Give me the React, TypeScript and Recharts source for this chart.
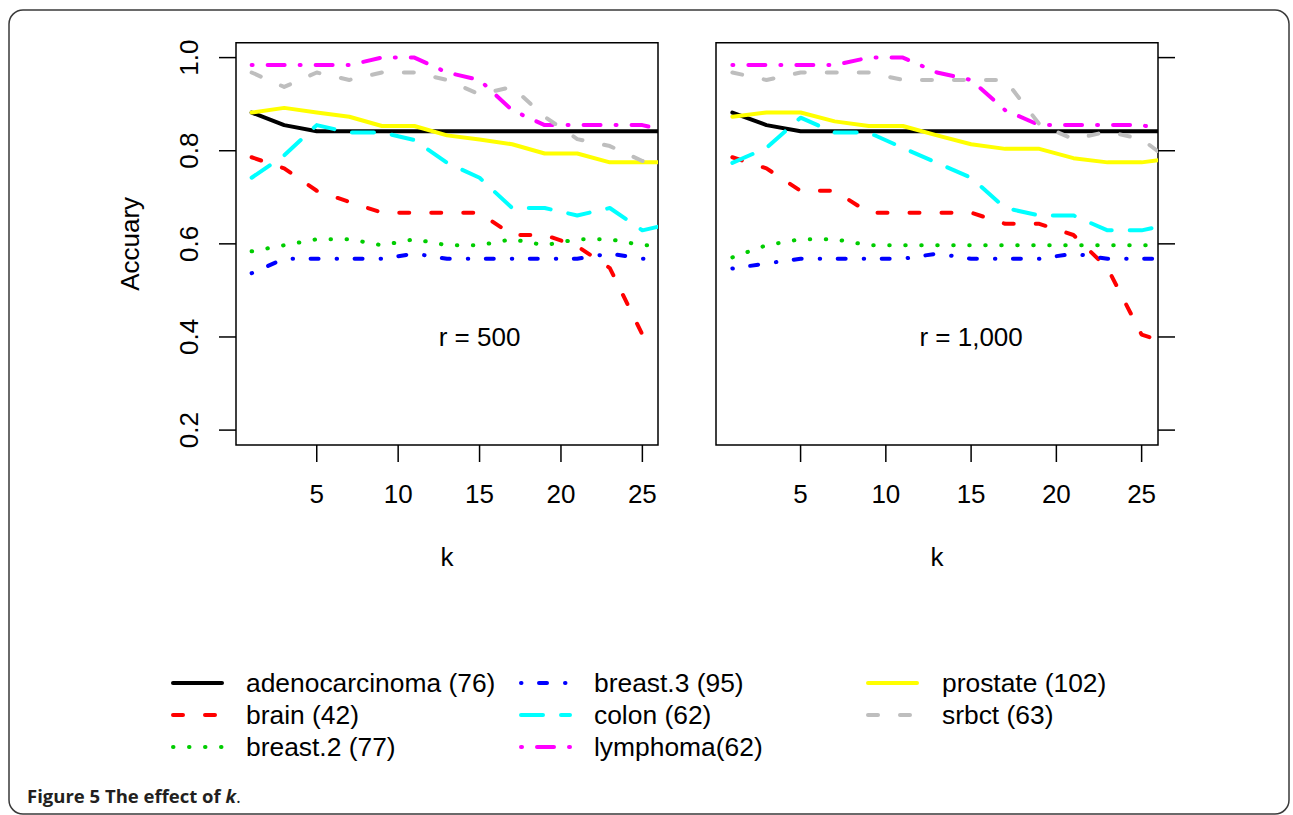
import React from 'react';
import { LineChart, Line, XAxis, YAxis, ReferenceArea, ReferenceDot } from 'recharts';

const FONT = '"Liberation Sans", Arial, Helvetica, sans-serif';

// k values (odd k; the last one lies beyond the visible x range and is clipped)
const kValues = [1, 3, 5, 7, 9, 11, 13, 15, 17, 19, 21, 23, 25, 27];
const xTicks = [5, 10, 15, 20, 25];
const yTicks = [0.2, 0.4, 0.6, 0.8, 1.0];

// r = 500 panel
const adeno500 = [0.882, 0.855, 0.842, 0.842, 0.842, 0.842, 0.842, 0.842, 0.842, 0.842, 0.842, 0.842, 0.842, 0.842];
const brain500 = [0.786, 0.762, 0.714, 0.690, 0.667, 0.667, 0.667, 0.667, 0.619, 0.619, 0.595, 0.548, 0.405, 0.381];
const breast2_500 = [0.584, 0.597, 0.610, 0.610, 0.597, 0.610, 0.597, 0.597, 0.610, 0.597, 0.610, 0.610, 0.597, 0.597];
const breast3_500 = [0.537, 0.568, 0.568, 0.568, 0.568, 0.579, 0.568, 0.568, 0.568, 0.568, 0.568, 0.579, 0.568, 0.568];
const colon500 = [0.742, 0.790, 0.855, 0.839, 0.839, 0.823, 0.774, 0.742, 0.677, 0.677, 0.661, 0.677, 0.629, 0.645];
const lymph500 = [0.984, 0.984, 0.984, 0.984, 1.0, 1.0, 0.968, 0.952, 0.887, 0.855, 0.855, 0.855, 0.855, 0.839];
const prost500 = [0.882, 0.892, 0.882, 0.873, 0.853, 0.853, 0.833, 0.824, 0.814, 0.794, 0.794, 0.775, 0.775, 0.775];
const srbct500 = [0.968, 0.937, 0.968, 0.952, 0.968, 0.968, 0.952, 0.921, 0.937, 0.873, 0.825, 0.810, 0.778, 0.762];

// r = 1,000 panel
const adeno1000 = [0.882, 0.855, 0.842, 0.842, 0.842, 0.842, 0.842, 0.842, 0.842, 0.842, 0.842, 0.842, 0.842, 0.842];
const brain1000 = [0.786, 0.762, 0.714, 0.714, 0.667, 0.667, 0.667, 0.667, 0.643, 0.643, 0.619, 0.548, 0.405, 0.381];
const breast2_1000 = [0.571, 0.597, 0.610, 0.610, 0.597, 0.597, 0.597, 0.597, 0.597, 0.597, 0.597, 0.597, 0.597, 0.597];
const breast3_1000 = [0.547, 0.558, 0.568, 0.568, 0.568, 0.568, 0.579, 0.568, 0.568, 0.568, 0.579, 0.568, 0.568, 0.568];
const colon1000 = [0.774, 0.806, 0.871, 0.839, 0.839, 0.806, 0.774, 0.742, 0.677, 0.661, 0.661, 0.629, 0.629, 0.645];
const lymph1000 = [0.984, 0.984, 0.984, 0.984, 1.0, 1.0, 0.968, 0.952, 0.887, 0.855, 0.855, 0.855, 0.855, 0.839];
const prost1000 = [0.873, 0.882, 0.882, 0.863, 0.853, 0.853, 0.833, 0.814, 0.804, 0.804, 0.784, 0.775, 0.775, 0.784];
const srbct1000 = [0.968, 0.952, 0.968, 0.968, 0.968, 0.952, 0.952, 0.952, 0.952, 0.857, 0.825, 0.841, 0.825, 0.770];

const seriesKeys = ['adeno', 'brain', 'breast2', 'breast3', 'colon', 'lymph', 'prost', 'srbct'];
const seriesNames = ['adenocarcinoma (76)', 'brain (42)', 'breast.2 (77)', 'breast.3 (95)', 'colon (62)', 'lymphoma(62)', 'prostate (102)', 'srbct (63)'];
const seriesColors = ['#000000', '#ff0000', '#00cd00', '#0000ff', '#00ffff', '#ff00ff', '#ffff00', '#bebebe'];
const seriesDash = [undefined, '10 22', '0.5 15.5', '0.5 17.5 8 18', '22 18', '1 15 17 15', undefined, '10 22'];

const panel500 = [adeno500, brain500, breast2_500, breast3_500, colon500, lymph500, prost500, srbct500];
const panel1000 = [adeno1000, brain1000, breast2_1000, breast3_1000, colon1000, lymph1000, prost1000, srbct1000];

const buildRows = (panel: number[][]) =>
  kValues.map((k, i) => {
    const row: Record<string, number> = { k };
    seriesKeys.forEach((key, j) => {
      row[key] = panel[j][i];
    });
    return row;
  });

const rows500 = buildRows(panel500);
const rows1000 = buildRows(panel1000);

const X_DOMAIN: [number, number] = [0.04, 25.96];
const Y_DOMAIN: [number, number] = [0.168, 1.032];

const RotTick = (props: any) => {
  const { x, y, payload } = props;
  return (
    <text
      x={x}
      y={y}
      transform={`rotate(-90 ${x} ${y})`}
      textAnchor="middle"
      fontSize={26}
      fill="#000"
      fontFamily={FONT}
    >
      {Number(payload.value).toFixed(1)}
    </text>
  );
};

const EmptyTick = () => <g />;

const renderLines = () =>
  seriesKeys.map((key, j) => (
    <Line
      key={key}
      dataKey={key}
      type="linear"
      stroke={seriesColors[j]}
      strokeWidth={4}
      strokeDasharray={seriesDash[j]}
      strokeLinecap="round"
      strokeLinejoin="round"
      dot={false}
      activeDot={false}
      isAnimationActive={false}
    />
  ));

const axisStroke = { stroke: '#000', strokeWidth: 1.5 };

export default function App() {
  return (
    <div style={{ position: 'absolute', left: 0, top: 0, width: 1293, height: 815, background: '#fff' }}>
      <div style={{ position: 'absolute', left: 0, top: 0 }}>
        <LineChart width={700} height={600} data={rows500} margin={{ top: 42.7, right: 42, left: 24, bottom: 0 }}>
          <XAxis
            dataKey="k"
            type="number"
            domain={X_DOMAIN}
            allowDataOverflow
            ticks={xTicks}
            tickSize={17}
            tickMargin={23}
            height={155}
            axisLine={false}
            tickLine={axisStroke}
            tick={{ fontSize: 26, fill: '#000', fontFamily: FONT }}
            label={{ value: 'k', position: 'insideTop', offset: 103, fontSize: 26, fill: '#000', fontFamily: FONT }}
          />
          <YAxis
            type="number"
            domain={Y_DOMAIN}
            allowDataOverflow
            ticks={yTicks}
            width={212}
            tickSize={17}
            tickMargin={21}
            axisLine={false}
            tickLine={axisStroke}
            tick={<RotTick />}
            label={{ value: 'Accuary', angle: -90, position: 'center', fontSize: 26, fill: '#000', fontFamily: FONT }}
          />
          <ReferenceArea
            x1={X_DOMAIN[0]}
            x2={X_DOMAIN[1]}
            y1={Y_DOMAIN[0]}
            y2={Y_DOMAIN[1]}
            fill="none"
            fillOpacity={0}
            stroke="#000"
            strokeWidth={1.5}
            ifOverflow="visible"
          />
          {renderLines()}
          <ReferenceDot
            x={15}
            y={0.4}
            r={0}
            fill="none"
            stroke="none"
            ifOverflow="visible"
            label={{ value: 'r = 500', position: 'center', fontSize: 26, fill: '#000', fontFamily: FONT }}
          />
        </LineChart>
      </div>
      <div style={{ position: 'absolute', left: 700, top: 0 }}>
        <LineChart width={520} height={600} data={rows1000} margin={{ top: 42.7, right: 0, left: 16, bottom: 0 }}>
          <XAxis
            dataKey="k"
            type="number"
            domain={X_DOMAIN}
            allowDataOverflow
            ticks={xTicks}
            tickSize={17}
            tickMargin={23}
            height={155}
            axisLine={false}
            tickLine={axisStroke}
            tick={{ fontSize: 26, fill: '#000', fontFamily: FONT }}
            label={{ value: 'k', position: 'insideTop', offset: 103, fontSize: 26, fill: '#000', fontFamily: FONT }}
          />
          <YAxis
            type="number"
            orientation="right"
            domain={Y_DOMAIN}
            allowDataOverflow
            ticks={yTicks}
            width={62}
            tickSize={17}
            axisLine={false}
            tickLine={axisStroke}
            tick={<EmptyTick />}
          />
          <ReferenceArea
            x1={X_DOMAIN[0]}
            x2={X_DOMAIN[1]}
            y1={Y_DOMAIN[0]}
            y2={Y_DOMAIN[1]}
            fill="none"
            fillOpacity={0}
            stroke="#000"
            strokeWidth={1.5}
            ifOverflow="visible"
          />
          {renderLines()}
          <ReferenceDot
            x={15}
            y={0.4}
            r={0}
            fill="none"
            stroke="none"
            ifOverflow="visible"
            label={{ value: 'r = 1,000', position: 'center', fontSize: 26, fill: '#000', fontFamily: FONT }}
          />
        </LineChart>
      </div>
      <svg
        width={1293}
        height={815}
        style={{ position: 'absolute', left: 0, top: 0, pointerEvents: 'none' }}
      >
        {seriesNames.map((name, j) => {
          const col = j < 3 ? 0 : j < 6 ? 1 : 2;
          const row = j < 3 ? j : j < 6 ? j - 3 : j - 6;
          const lineX = [173, 521, 868][col];
          const textX = [246, 594, 942][col];
          const y = 683 + row * 32;
          return (
            <g key={name}>
              <line
                x1={lineX}
                x2={lineX + 49}
                y1={y}
                y2={y}
                stroke={seriesColors[j]}
                strokeWidth={4}
                strokeDasharray={seriesDash[j]}
                strokeLinecap="round"
              />
              <text x={textX} y={y + 8.5} fontSize={26.4} fill="#000" fontFamily={FONT}>
                {name}
              </text>
            </g>
          );
        })}
        <rect x={9} y={10} width={1280} height={804} rx={14} ry={14} fill="none" stroke="#3a3a3a" strokeWidth={1.5} />
        <text x={27} y={803} fontSize={18.5} fill="#231f20" fontFamily={'"Open Sans", "Noto Sans", sans-serif'}>
          <tspan fontWeight={700}>Figure 5 The effect of </tspan>
          <tspan fontWeight={700} fontStyle="italic">k</tspan>
          <tspan>.</tspan>
        </text>
      </svg>
    </div>
  );
}
